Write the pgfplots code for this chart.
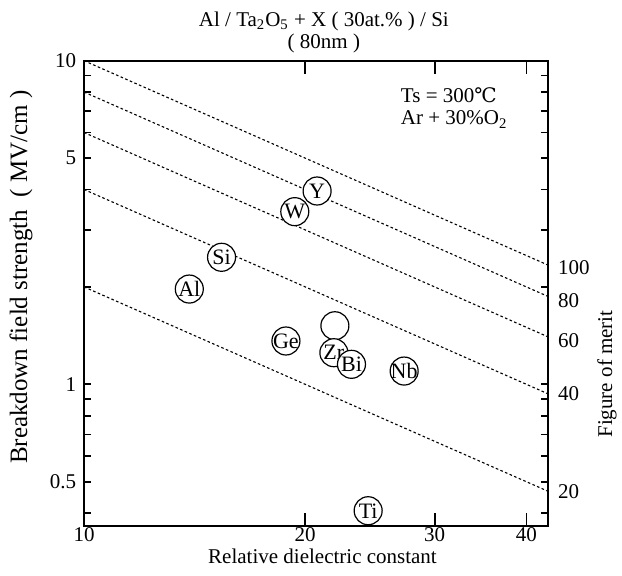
\documentclass[border=0pt]{standalone}
\usepackage{fontspec}
\setmainfont{Liberation Serif}
\newfontfamily\dejavuserif{DejaVu Serif}
\usepackage{pgfplots}
\pgfplotsset{compat=1.18}
\begin{document}
\fontsize{10.5}{12.6}\selectfont
\begin{tikzpicture}[font=\fontsize{10.5}{12.6}\selectfont]
\begin{axis}[
  xmode=log, ymode=log,
  scale only axis,
  width=232pt, height=232.65pt,
  xmin=10, xmax=42.8, ymin=0.365, ymax=10,
  clip=false,
  every axis/.append style={line width=1pt},
  xtick={10,20,30,40}, xticklabels={10,20,30,40},
  ytick={0.5,1,5,10}, yticklabels={0.5,1,5,10},
  minor ytick={0.4,0.5,0.6,0.7,0.8,0.9,1,2,3,4,5,6,7,8,9,10},
  major y tick style={draw=none},
  major tick length=6.5pt,
  minor tick length=3.5pt,
  every tick/.style={black, line width=0.9pt},
  tick label style={font=\fontsize{10.5}{12.6}\selectfont},
  xticklabel style={inner sep=1pt, yshift=0.5pt},
  /pgf/number format/assume math mode=true,
  dashline/.style={black, line width=0.55pt, dash pattern=on 1.3pt off 1.2pt},
  pt/.style={only marks, mark=*, mark size=7pt,
    mark options={fill=white, draw=black, line width=0.6pt, solid},
    nodes near coords, point meta=explicit symbolic,
    nodes near coords style={anchor=center, inner sep=0pt, font=\fontsize{11}{13}\selectfont}},
]
\coordinate (O) at (rel axis cs:0,0);
% figure-of-merit lines (FOM = eps * E)
\addplot[dashline] coordinates {(10,10) (42.8,2.336)};
\addplot[dashline] coordinates {(10,8) (42.8,1.869)};
\addplot[dashline] coordinates {(10,6) (42.8,1.402)};
\addplot[dashline] coordinates {(10,4) (42.8,0.9346)};
\addplot[dashline] coordinates {(10,2) (42.8,0.4673)};
% data points
\addplot[pt] coordinates {(13.91,1.970) [Al]};
\addplot[pt] coordinates {(15.39,2.469) [Si]};
\addplot[pt] coordinates {(18.83,1.361) [Ge]};
\addplot[pt] coordinates {(19.36,3.416) [W]};
\addplot[pt] coordinates {(20.76,3.957) [Y]};
\addplot[only marks, mark=*, mark size=7pt, mark options={fill=white, draw=black, line width=0.6pt, solid}] coordinates {(21.95,1.517)};
\addplot[pt] coordinates {(21.88,1.252) [Zr]};
\addplot[pt] coordinates {(23.12,1.153) [Bi]};
\addplot[pt] coordinates {(27.27,1.099) [Nb]};
\addplot[pt] coordinates {(24.36,0.4068) [Ti]};
% annotations
\node[anchor=base west, inner sep=0pt] at (rel axis cs:0.681,0.9097) {Ts = 300{\dejavuserif\fontsize{10}{12}\selectfont ℃}};
\node[anchor=base west, inner sep=0pt] at (rel axis cs:0.681,0.8618) {Ar + 30\%O\textsubscript{2}};
% title
\node[anchor=base, inner sep=0pt, yshift=17pt] at (rel axis cs:0.517,1) {Al / Ta\textsubscript{2}O\textsubscript{5} + X ( 30at.\% ) / Si};
\node[anchor=base, inner sep=0pt, yshift=6.2pt] at (rel axis cs:0.517,1) {( 80nm )};
% axis labels
\node[anchor=base, inner sep=0pt, yshift=-19pt] at (rel axis cs:0.514,0) {Relative dielectric constant};
\node[rotate=90, inner sep=0pt, font=\fontsize{12.5}{15}\selectfont] at (rel axis cs:-0.1358,0.535) {Breakdown field strength\ \ ( MV/cm )};
\node[rotate=90, inner sep=0pt] at (rel axis cs:1.127,0.3267) {Figure of merit};
% figure of merit labels
\node[anchor=west, inner sep=0pt, xshift=4.5pt] at (axis cs:42.8,2.288) {100};
\node[anchor=west, inner sep=0pt, xshift=4.5pt] at (axis cs:42.8,1.820) {80};
\node[anchor=west, inner sep=0pt, xshift=4.5pt] at (axis cs:42.8,1.361) {60};
\node[anchor=west, inner sep=0pt, xshift=4.5pt] at (axis cs:42.8,0.933) {40};
\node[anchor=west, inner sep=0pt, xshift=4.5pt] at (axis cs:42.8,0.4649) {20};
\end{axis}
\pgfresetboundingbox
\path[use as bounding box] ([xshift=-42pt,yshift=-25pt]O) rectangle ++(311pt,288pt);
\end{tikzpicture}
\end{document}
